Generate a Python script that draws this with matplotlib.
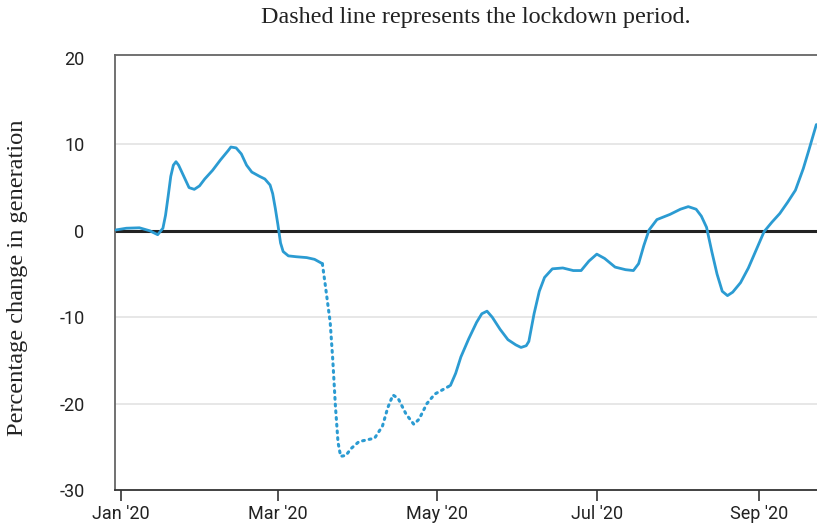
import datetime as dt
import matplotlib
matplotlib.use("Agg")
import matplotlib.pyplot as plt

# values (percentage change in generation)
before_dates = ["2019-12-30", "2020-01-03", "2020-01-08", "2020-01-12", "2020-01-15",
                "2020-01-17", "2020-01-18", "2020-01-19", "2020-01-20", "2020-01-21",
                "2020-01-22", "2020-01-23", "2020-01-25", "2020-01-27", "2020-01-29",
                "2020-01-31", "2020-02-02", "2020-02-05", "2020-02-08", "2020-02-11",
                "2020-02-12", "2020-02-14", "2020-02-16", "2020-02-18", "2020-02-20",
                "2020-02-23", "2020-02-25", "2020-02-27", "2020-02-28", "2020-02-29",
                "2020-03-01", "2020-03-02", "2020-03-03", "2020-03-05", "2020-03-08",
                "2020-03-12", "2020-03-15", "2020-03-18"]
before_vals = [0.1, 0.3, 0.35, 0.0, -0.45,
               0.3, 1.8, 4.0, 6.3, 7.6,
               8.0, 7.6, 6.3, 5.0, 4.8,
               5.2, 6.0, 7.0, 8.2, 9.3,
               9.7, 9.6, 8.9, 7.6, 6.8,
               6.3, 6.0, 5.3, 4.3, 2.6,
               0.7, -1.4, -2.4, -2.9, -3.0,
               -3.1, -3.3, -3.8]

lockdown_dates = ["2020-03-18", "2020-03-19", "2020-03-21", "2020-03-22", "2020-03-23",
                  "2020-03-24", "2020-03-25", "2020-03-27", "2020-03-29", "2020-04-01",
                  "2020-04-04", "2020-04-07", "2020-04-10", "2020-04-12", "2020-04-14",
                  "2020-04-16", "2020-04-19", "2020-04-22", "2020-04-24", "2020-04-27",
                  "2020-04-30", "2020-05-03", "2020-05-06"]
lockdown_vals = [-3.8, -6.0, -10.6, -15.0, -20.3,
                 -24.5, -26.1, -26.0, -25.2, -24.4,
                 -24.2, -24.0, -22.6, -20.5, -19.0,
                 -19.4, -21.2, -22.4, -21.8, -20.0,
                 -18.9, -18.4, -17.9]

after_dates = ["2020-05-06", "2020-05-08", "2020-05-10", "2020-05-13", "2020-05-16",
               "2020-05-18", "2020-05-20", "2020-05-22", "2020-05-25", "2020-05-28",
               "2020-05-31", "2020-06-02", "2020-06-04", "2020-06-05", "2020-06-07",
               "2020-06-09", "2020-06-11", "2020-06-14", "2020-06-18", "2020-06-22",
               "2020-06-25", "2020-06-28", "2020-07-01", "2020-07-04", "2020-07-08",
               "2020-07-12", "2020-07-15", "2020-07-17", "2020-07-19", "2020-07-21",
               "2020-07-24", "2020-07-29", "2020-08-02", "2020-08-05", "2020-08-08",
               "2020-08-10", "2020-08-12", "2020-08-14", "2020-08-16", "2020-08-18",
               "2020-08-20", "2020-08-22", "2020-08-25", "2020-08-28", "2020-08-31",
               "2020-09-03", "2020-09-06", "2020-09-09", "2020-09-12", "2020-09-15",
               "2020-09-18", "2020-09-20", "2020-09-23"]
after_vals = [-17.9, -16.5, -14.6, -12.5, -10.6,
              -9.6, -9.3, -10.0, -11.4, -12.6,
              -13.2, -13.5, -13.3, -12.8, -9.6,
              -7.0, -5.4, -4.4, -4.3, -4.6,
              -4.6, -3.5, -2.7, -3.2, -4.2,
              -4.5, -4.6, -3.8, -1.7, 0.1,
              1.3, 1.9, 2.5, 2.8, 2.5,
              1.7, 0.4, -2.4, -5.0, -7.0,
              -7.5, -7.1, -6.0, -4.3, -2.2,
              -0.1, 1.0, 2.0, 3.3, 4.7,
              7.2, 9.2, 12.3]

tick_dates = ["2020-01-01", "2020-03-01", "2020-05-01", "2020-07-01", "2020-09-01"]
tick_labels = ["Jan '20", "Mar '20", "May '20", "Jul '20", "Sep '20"]
y_ticks = [20, 10, 0, -10, -20, -30]


def to_dates(lst):
    return [dt.datetime.strptime(s, "%Y-%m-%d") for s in lst]


line_color = "#2b9bd2"

fig = plt.figure(figsize=(8.17, 5.31), dpi=100)
ax = fig.add_axes([115 / 817, 1 - 490 / 531, 1 - 115 / 817, (490 - 55) / 531])

# light grid, then zero line
for y in [10, -10, -20]:
    ax.axhline(y, color="#e3e3e3", lw=1.2, zorder=1)
ax.axhline(0, color="#222222", lw=2.2, zorder=2)

ax.plot(to_dates(before_dates), before_vals, color=line_color, lw=2.0,
        solid_capstyle="round", solid_joinstyle="round", zorder=3)
ax.plot(to_dates(lockdown_dates), lockdown_vals, color=line_color, lw=2.2,
        linestyle=(0, (0.6, 1.6)), dash_capstyle="round", zorder=3)
ax.plot(to_dates(after_dates), after_vals, color=line_color, lw=2.0,
        solid_capstyle="round", solid_joinstyle="round", zorder=3)

ax.set_xlim(dt.datetime(2019, 12, 29, 16), dt.datetime(2020, 9, 23, 6))
ax.set_ylim(-30, 20.35)

ax.set_xticks(to_dates(tick_dates))
ax.set_xticklabels(tick_labels)
ax.set_yticks(y_ticks)
ax.set_yticklabels([str(v) for v in y_ticks])

for lab in ax.get_xticklabels() + ax.get_yticklabels():
    lab.set_fontfamily("Roboto")
    lab.set_fontsize(13)
    lab.set_color("#222222")

ax.tick_params(axis="x", length=8, width=1.2, color="#333333", pad=3)
ax.tick_params(axis="y", length=0, pad=22)

for side in ["left", "top"]:
    ax.spines[side].set_color("#666666")
    ax.spines[side].set_linewidth(1.3)
ax.spines["bottom"].set_color("#333333")
ax.spines["bottom"].set_linewidth(1.3)
ax.spines["right"].set_visible(False)

fig.text(476 / 817, 1 - 17 / 531, "Dashed line represents the lockdown period.",
         family="Liberation Serif", fontsize=17.4, ha="center", va="center", color="#222222")
fig.text(18 / 817, 1 - 278 / 531, "Percentage change in generation",
         family="Liberation Serif", fontsize=17.6, rotation=90, ha="center", va="center",
         color="#222222")

fig.savefig("out.png", dpi=100)
